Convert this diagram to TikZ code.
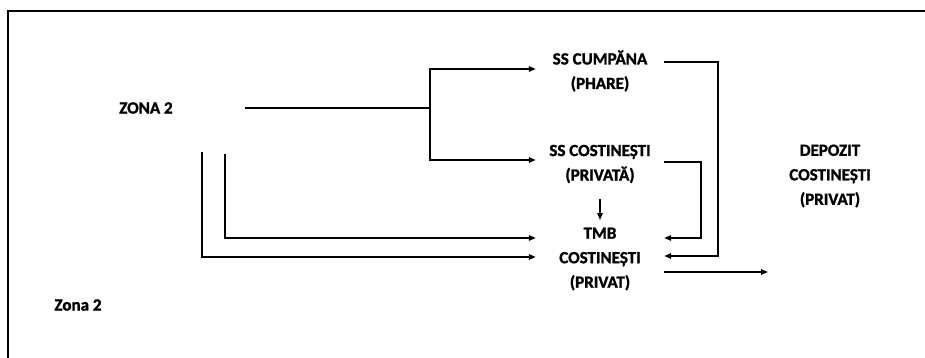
\documentclass[tikz,border=0pt]{standalone}
\usepackage{fontspec}
\setmainfont{Carlito}[BoldFeatures={FakeBold=1.5}]
\usetikzlibrary{arrows.meta,calc}
\begin{document}
\begin{tikzpicture}[x=1pt,y=-1pt,
  lbl/.style={font=\bfseries\fontsize{17}{24.5}\selectfont, align=center, inner sep=0pt},
  mid/.style={lbl, minimum width=128pt},
  ln/.style={line width=1.5pt},
  arr/.style={ln, -{Triangle[length=7pt,width=5.5pt]}}]
\useasboundingbox (0,0) rectangle (925,358);
% frame
\draw[line width=1.4pt] (8,358) -- (8,11) -- (925,11);
% nodes
\node[lbl] (zona) at (146,108) {ZONA 2};
\node[lbl] (zona2) at (78,305) {Zona 2};
\node[mid] (cump) at (600,71) {SS CUMPĂNA\\(PHARE)};
\node[mid] (ssc) at (600,164) {SS COSTINEȘTI\\(PRIVATĂ)};
\node[mid] (tmb) at (600,259) {TMB\\COSTINEȘTI\\(PRIVAT)};
\node[lbl] (dep) at (830,176) {DEPOZIT\\COSTINEȘTI\\(PRIVAT)};
% coordinates
\coordinate (zs) at (245,108);
\coordinate (br) at (430,108);
\coordinate (o1) at (202,152);
\coordinate (i1) at (225,154);
\coordinate (oe) at (768,272);
% connectors
\draw[ln] (zs) -- (br);
\draw[arr] (br) |- ([yshift=2pt]cump.west);
\draw[arr] (br) |- ([yshift=4pt]ssc.west);
\draw[arr] ([yshift=9pt]cump.east) -- ++(54,0) |- ([yshift=3pt]tmb.east);
\draw[arr] ([yshift=2pt]ssc.east) -- ++(37,0) |- ([yshift=21pt]tmb.east);
\draw[arr] ([yshift=-35pt]ssc.center) -- ([yshift=39pt]tmb.center);
\draw[arr] (o1) |- ([yshift=2pt]tmb.west);
\draw[arr] (i1) |- ([yshift=21pt]tmb.west);
\draw[arr] ([yshift=-13pt]tmb.east) -- (oe);
\end{tikzpicture}
\end{document}
